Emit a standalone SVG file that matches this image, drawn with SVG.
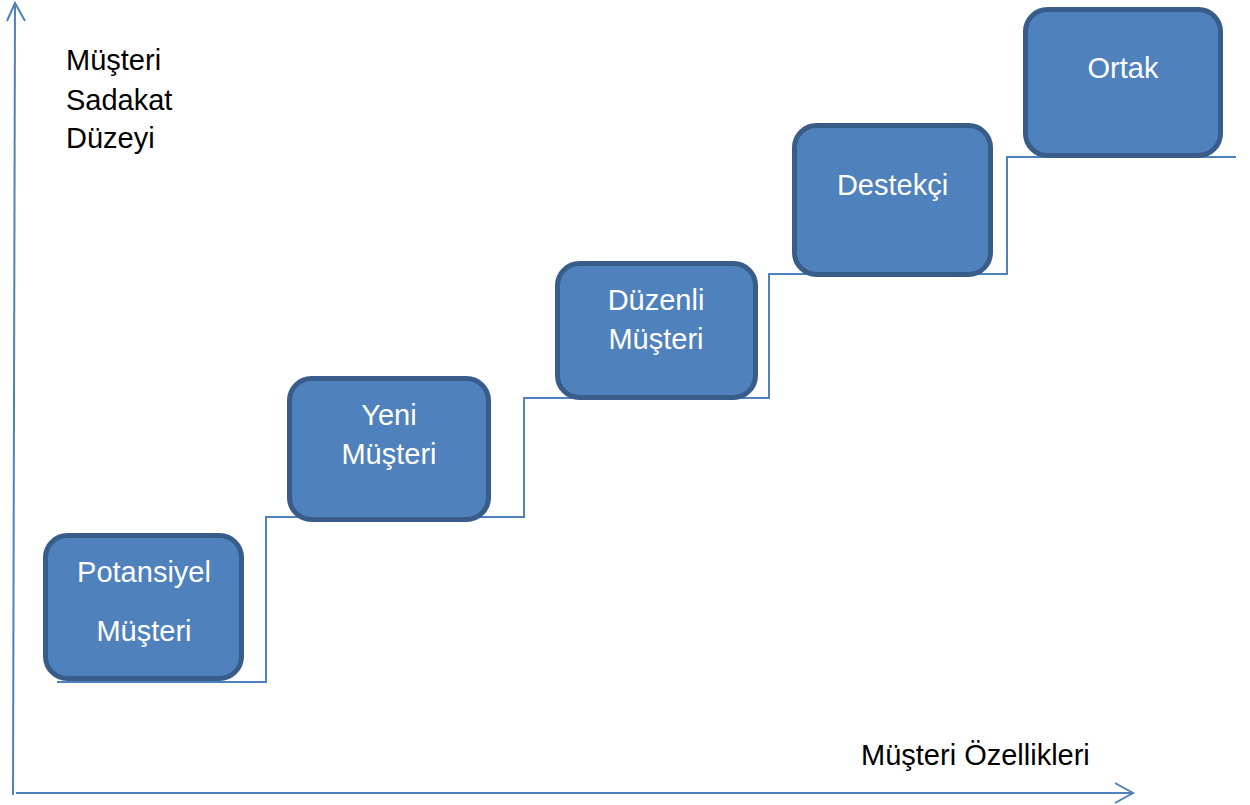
<svg xmlns="http://www.w3.org/2000/svg" width="1250" height="805" viewBox="0 0 1250 805">
<style>
.box{fill:#4F81BD;stroke:#385D8A;stroke-width:5}
.lbl{font-family:"Liberation Sans",Arial,sans-serif;font-size:29px;fill:#FFFFFF;text-anchor:middle}
.ax{font-family:"Liberation Sans",Arial,sans-serif;font-size:29px;fill:#000000}
.ln{fill:none;stroke:#4F81BD;stroke-width:2}
</style>
<rect width="1250" height="805" fill="#FFFFFF"/>
<g id="connectors">
<path class="ln" d="M13,795 L15,4"/>
<path class="ln" d="M7,21 L15,3 L25,21"/>
<path class="ln" d="M16,793 L1133,793"/>
<path class="ln" d="M1115,783 L1133,793 L1115,803"/>
<path class="ln" d="M57,682 L266,682 L266,517 L524,517 L524,398 L769,398 L769,274 L1007,274 L1007,157 L1236,157"/>
</g>
<g id="axis-y-label">
<text class="ax" x="66" y="70">Müşteri</text>
<text class="ax" x="66" y="110">Sadakat</text>
<text class="ax" x="66" y="148">Düzeyi</text>
</g>
<g id="axis-x-label">
<text class="ax" x="861" y="765">Müşteri Özellikleri</text>
</g>
<g id="node-potansiyel">
<rect class="box" x="45.5" y="535.5" width="196" height="143" rx="22"/>
<text class="lbl" x="144" y="582">Potansiyel</text>
<text class="lbl" x="144" y="641">Müşteri</text>
</g>
<g id="node-yeni">
<rect class="box" x="289.5" y="378.5" width="199" height="141" rx="22"/>
<text class="lbl" x="389" y="425">Yeni</text>
<text class="lbl" x="389" y="464">Müşteri</text>
</g>
<g id="node-duzenli">
<rect class="box" x="557.5" y="263.5" width="198" height="134" rx="22"/>
<text class="lbl" x="656" y="310">Düzenli</text>
<text class="lbl" x="656" y="349">Müşteri</text>
</g>
<g id="node-destekci">
<rect class="box" x="794.5" y="125.5" width="196" height="149" rx="22"/>
<text class="lbl" x="892.5" y="195">Destekçi</text>
</g>
<g id="node-ortak">
<rect class="box" x="1025.5" y="9.5" width="195" height="146" rx="22"/>
<text class="lbl" x="1123" y="78">Ortak</text>
</g>
</svg>
